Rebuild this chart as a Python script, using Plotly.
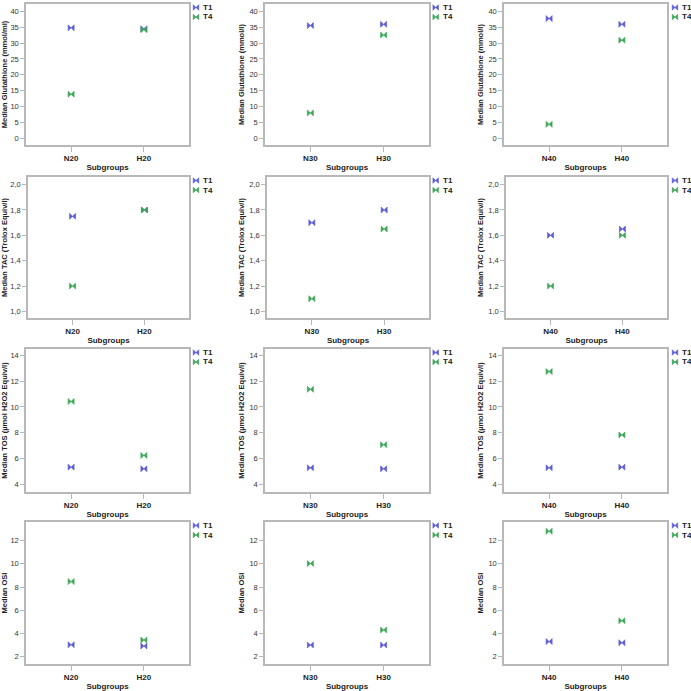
import plotly.graph_objects as go

W = H = 691

# ---------------- data ----------------
groups_n = ["N20", "N30", "N40"]
groups_h = ["H20", "H30", "H40"]
series_names = ["T1", "T4"]

gsh_t1 = [[34.8, 34.5], [35.5, 35.9], [37.7, 35.9]]
gsh_t4 = [[13.9, 34.2], [8.0, 32.5], [4.4, 30.9]]
tac_t1 = [[1.75, 1.80], [1.70, 1.80], [1.60, 1.65]]
tac_t4 = [[1.20, 1.80], [1.10, 1.65], [1.20, 1.60]]
tos_t1 = [[5.33, 5.20], [5.28, 5.20], [5.28, 5.33]]
tos_t4 = [[10.43, 6.24], [11.37, 7.07], [12.75, 7.83]]
osi_t1 = [[3.03, 2.92], [3.00, 3.00], [3.30, 3.20]]
osi_t4 = [[8.47, 3.44], [10.02, 4.30], [12.80, 5.10]]

y_titles = [
    ["Median Glutathione (mmol/ml)", "Median Glutathione (mmol/l)", "Median Glutathione (mmol/l)"],
    ["Median TAC (Trolox Equiv/l)"] * 3,
    ["Median TOS (µmol H2O2 Equiv/l)"] * 3,
    ["Median OSI"] * 3,
]
x_title = "Subgroups"

rows_t1 = [gsh_t1, tac_t1, tos_t1, osi_t1]
rows_t4 = [gsh_t4, tac_t4, tos_t4, osi_t4]

y_ranges = [[-2.1, 42.3], [0.948, 2.06], [3.4, 14.5], [1.37, 13.6]]
y_ticks = [
    [0, 5, 10, 15, 20, 25, 30, 35, 40],
    [1.0, 1.2, 1.4, 1.6, 1.8, 2.0],
    [4, 6, 8, 10, 12, 14],
    [2, 4, 6, 8, 10, 12],
]
y_fmt = ["d", ".1f", "d", "d"]

# ---------------- styling / layout (pixels) ----------------
COL_T1 = "#5b5bd8"
COL_T4 = "#3aa655"
FRAME = "#b8b8b8"
FONT = "Liberation Sans, Arial, sans-serif"

col_x = [(26, 189), (265, 429), (504, 667)]
row_y = [(4, 145), (177, 318), (349, 492), (522, 664)]
row_dx = [0, 2, 0, 0]

def px_x(p):
    return p / W

def px_y(p):
    return 1 - p / H

fig = go.Figure()
layout = dict(
    width=W, height=H, autosize=False,
    margin=dict(l=0, r=0, t=0, b=0),
    paper_bgcolor="white", plot_bgcolor="rgba(0,0,0,0)",
    showlegend=False,
    separators=", ",
    font=dict(family=FONT, size=8, color="#222222"),
)
annotations = []

idx = 0
for r in range(4):
    for c in range(3):
        idx += 1
        xa = "x" if idx == 1 else f"x{idx}"
        ya = "y" if idx == 1 else f"y{idx}"
        cats = [groups_n[c], groups_h[c]]
        for name, data, color in (("T1", rows_t1[r], COL_T1), ("T4", rows_t4[r], COL_T4)):
            fig.add_trace(go.Scatter(
                x=[0, 1], y=data[c], mode="markers", name=name,
                xaxis=xa, yaxis=ya,
                marker=dict(symbol="bowtie", size=6, color=color,
                            line=dict(width=0.6, color=color)),
                cliponaxis=False,
            ))
        x0, x1 = col_x[c]
        x0 += row_dx[r]
        y0, y1 = row_y[r]
        layout["xaxis" if idx == 1 else f"xaxis{idx}"] = dict(
            domain=[px_x(x0), px_x(x1)], anchor=ya,
            range=[-0.62, 1.62], tickmode="array", tickvals=[0, 1], ticktext=cats,
            showgrid=False, zeroline=False,
            showline=True, mirror=True, linecolor=FRAME, linewidth=1.5,
            ticks="outside", ticklen=5, tickcolor=FRAME, tickwidth=1,
            tickfont=dict(size=8, weight="bold", color="#222222"),
            title=dict(text=x_title, font=dict(size=8, weight="bold", color="#222222"), standoff=2),
            fixedrange=True,
        )
        layout["yaxis" if idx == 1 else f"yaxis{idx}"] = dict(
            domain=[px_y(y1), px_y(y0)], anchor=xa,
            range=y_ranges[r], tickmode="array", tickvals=y_ticks[r], tickformat=y_fmt[r],
            showgrid=False, zeroline=False,
            showline=True, mirror=True, linecolor=FRAME, linewidth=1.5,
            ticks="outside", ticklen=4, tickcolor=FRAME, tickwidth=1,
            tickfont=dict(size=7.5, color="#333333"),
            title=dict(text=y_titles[r][c], font=dict(size=7.5, weight="bold", color="#222222"), standoff=4),
            fixedrange=True,
        )

# legend keys on a full-page pixel overlay axis
leg_marker_x = [196, 435.7, 675]
leg_text_x = [201, 440.5, 679.5]
ov = idx + 1
lx, ly, lc = [], [], []
for r in range(4):
    for c in range(3):
        top = row_y[r][0]
        for k, (nm, color) in enumerate(zip(series_names, [COL_T1, COL_T4])):
            yy = top + 3.5 + k * 9.5
            lx.append(leg_marker_x[c]); ly.append(yy); lc.append(color)
            annotations.append(dict(
                x=px_x(leg_text_x[c]), y=px_y(yy), xref="paper", yref="paper",
                text=nm, showarrow=False, xanchor="left", yanchor="middle",
                font=dict(size=8, weight="bold", color="#222222"),
            ))
fig.add_trace(go.Scatter(
    x=lx, y=ly, mode="markers", xaxis=f"x{ov}", yaxis=f"y{ov}",
    marker=dict(symbol="bowtie", size=5.5, color=lc, line=dict(width=0.6, color=lc)),
    hoverinfo="skip", cliponaxis=False,
))
layout[f"xaxis{ov}"] = dict(domain=[0, 1], range=[0, W], visible=False, fixedrange=True, anchor=f"y{ov}")
layout[f"yaxis{ov}"] = dict(domain=[0, 1], range=[H, 0], visible=False, fixedrange=True, anchor=f"x{ov}")

layout["annotations"] = annotations
fig.update_layout(**layout)
fig.write_html("out.html")
